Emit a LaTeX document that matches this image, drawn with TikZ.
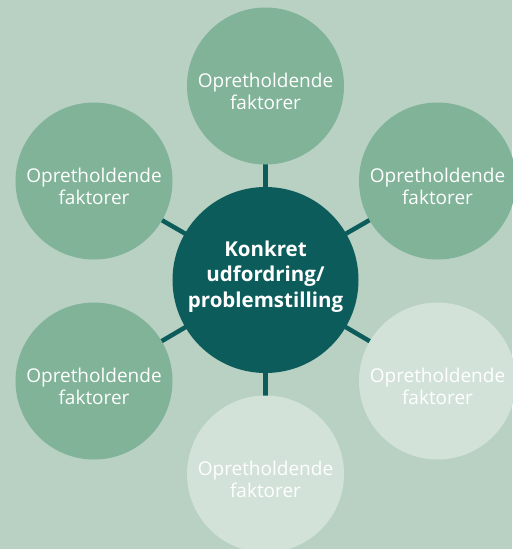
\documentclass[tikz,border=0pt]{standalone}
\usepackage{fontspec}
\setmainfont{Open Sans}
\pgfdeclarelayer{canvas}
\pgfdeclarelayer{links}
\pgfsetlayers{canvas,links,main}
\definecolor{bgc}{RGB}{184,209,195}
\definecolor{midg}{RGB}{128,179,152}
\definecolor{lightg}{RGB}{210,226,216}
\definecolor{teal}{RGB}{12,92,91}
\tikzset{
  disc/.style={circle,minimum size=157pt,inner sep=0pt,draw=none},
  darkdisc/.style={disc,fill=midg},
  lightdisc/.style={disc,fill=lightg},
  hubdisc/.style={circle,minimum size=186pt,inner sep=0pt,fill=teal},
  labeltext/.style={inner sep=0pt,text=white,align=center,font=\fontsize{19}{21.5}\selectfont},
  hubtext/.style={inner sep=0pt,text=white,align=center,font=\bfseries\fontsize{20.5}{25.5}\selectfont},
  link/.style={draw=teal,line width=4.5pt}
}
\begin{document}
\begin{tikzpicture}[x=1pt,y=-1pt]
\begin{pgfonlayer}{canvas}
\fill[bgc] (0,0) rectangle (512,549);
\end{pgfonlayer}
\useasboundingbox (0,0) rectangle (512,549);
% discs
\node[hubdisc] (h) at (265.5,280) {};
\node[darkdisc] (t) at (265.5,86) {};
\node[darkdisc] (lt) at (94,181) {};
\node[darkdisc] (rt) at (437.5,181) {};
\node[darkdisc] (lb) at (94,381) {};
\node[lightdisc] (rb) at (437.5,381) {};
\node[lightdisc] (b) at (265.5,474) {};
% links
\begin{pgfonlayer}{links}
\foreach \p in {t,lt,rt,lb,rb,b} \draw[link] (h.center) -- (\p.center);
\end{pgfonlayer}
% texts
\foreach \p in {t,lt,rt,lb,rb,b}
  \node[labeltext] (\p-text) at ([yshift=-5.4pt]\p.center) {Opretholdende\\faktorer};
\node[hubtext] (h-text) at ([yshift=3.5pt]h.center) {Konkret\\udfordring/\\problemstilling};
\end{tikzpicture}
\end{document}
